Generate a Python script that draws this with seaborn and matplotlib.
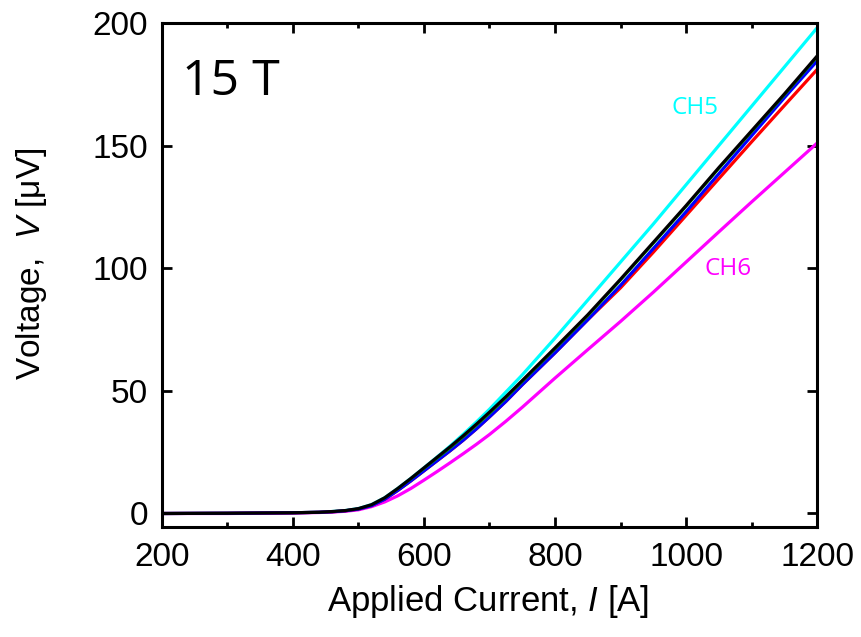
import matplotlib
matplotlib.use("Agg")
import matplotlib.pyplot as plt
import seaborn as sns
import numpy as np
import pandas as pd
from matplotlib.ticker import MultipleLocator

current = [200, 300, 400, 440, 460, 480, 500, 520, 540, 560, 580, 600, 620, 640,
           660, 680, 700, 725, 750, 800, 850, 900, 950, 1000, 1050, 1100, 1150, 1200]
v_cyan = [0, 0.1, 0.3, 0.5, 0.8, 1.2, 2.0, 3.6, 6.4, 10.2, 14.3, 18.6, 23.0, 27.5,
          32.3, 37.3, 42.5, 49.5, 56.5, 71.5, 87, 102.5, 118, 134, 150, 166, 182, 198]
v_magenta = [0, 0, 0.2, 0.4, 0.6, 0.9, 1.5, 2.8, 4.7, 7.2, 10.2, 13.6, 17.1, 20.7,
             24.4, 28.2, 32.2, 37.6, 43.3, 55.2, 66.8, 78.3, 90.2, 102.5, 114.8, 127, 139, 151]
v_red = [0, 0.1, 0.3, 0.5, 0.7, 1.1, 1.8, 3.2, 5.8, 9.4, 13.3, 17.4, 21.5, 25.6,
         29.9, 34.5, 39.4, 45.7, 52.5, 65.5, 79, 92, 106.5, 121.5, 136.5, 151.5, 166.3, 181]
v_blue = [0, 0.1, 0.3, 0.5, 0.7, 1.1, 1.8, 3.2, 5.8, 9.4, 13.3, 17.4, 21.5, 25.6,
          29.9, 34.5, 39.4, 45.7, 52.5, 65.5, 79, 93, 108, 123, 138.5, 154, 169.5, 184.5]
v_green = [0, 0.1, 0.3, 0.5, 0.8, 1.2, 1.9, 3.4, 6.1, 9.8, 13.8, 18.0, 22.2, 26.4,
           30.9, 35.6, 40.4, 46.7, 53.4, 66.7, 80.2, 94.7, 109.7, 124.7, 140.2, 155.2, 170.2, 185.7]
v_black = [0, 0.1, 0.3, 0.5, 0.8, 1.2, 2.0, 3.6, 6.4, 10.2, 14.3, 18.6, 22.9, 27.2,
           31.7, 36.4, 41.3, 47.6, 54.2, 67.5, 81, 95.5, 110.5, 125.5, 141, 156, 171, 186.5]

series = [
    ("cyan", v_cyan, "#00FFFF", 2.3),
    ("magenta", v_magenta, "#FF00FF", 2.3),
    ("red", v_red, "#FF0000", 2.3),
    ("blue", v_blue, "#0000FF", 2.3),
    ("green", v_green, "#00C000", 0.9),
    ("black", v_black, "#000000", 2.3),
]

sns.set_style("ticks")
plt.rcParams['font.family'] = ['Liberation Sans', 'DejaVu Sans']
plt.rcParams['mathtext.fontset'] = 'custom'
plt.rcParams['mathtext.it'] = 'Liberation Sans:italic'
plt.rcParams['mathtext.rm'] = 'Liberation Sans'
plt.rcParams['text.color'] = 'black'
plt.rcParams['axes.labelcolor'] = 'black'
plt.rcParams['xtick.color'] = 'black'
plt.rcParams['ytick.color'] = 'black'

fig = plt.figure(figsize=(8.61, 6.37), dpi=100)
ax = fig.add_axes([0.188, 0.1727, 0.761, 0.7913])

for name, vals, col, lw in series:
    df = pd.DataFrame({"I": current, "V": vals})
    sns.lineplot(data=df, x="I", y="V", color=col, linewidth=lw, ax=ax)

ax.set_xlim(200, 1200)
ax.set_ylim(-5.5, 200)
ax.xaxis.set_major_locator(MultipleLocator(200))
ax.xaxis.set_minor_locator(MultipleLocator(100))
ax.yaxis.set_major_locator(MultipleLocator(50))

for s in ax.spines.values():
    s.set_linewidth(2.2)
    s.set_color("black")
ax.tick_params(which="both", direction="in", top=True, right=True, width=2.0,
               labelsize=24, colors="black")
ax.tick_params(axis="x", which="both", pad=11)
ax.tick_params(axis="y", which="both", pad=10)
ax.tick_params(which="major", length=7)
ax.tick_params(which="minor", length=3.5)

ax.set_xlabel("Applied Current, $\\it{I}$ [A]", fontsize=25, color="black")
ax.set_ylabel("Voltage,  $\\it{V}$ [μV]", fontsize=24, color="black")
ax.xaxis.set_label_coords(0.4985, -0.112)
ax.yaxis.set_label_coords(-0.172, 0.522)

ax.text(0.03, 0.857, "15 T", transform=ax.transAxes, fontsize=36,
        family="Open Sans", va="baseline", ha="left", color="black")
ax.text(1014, 165.4, "CH5", color="#00FFFF", fontsize=17.5, family="Open Sans",
        ha="center", va="center")
ax.text(1064, 99.6, "CH6", color="#FF00FF", fontsize=17.5, family="Open Sans",
        ha="center", va="center")

fig.savefig("out.png", dpi=100)
